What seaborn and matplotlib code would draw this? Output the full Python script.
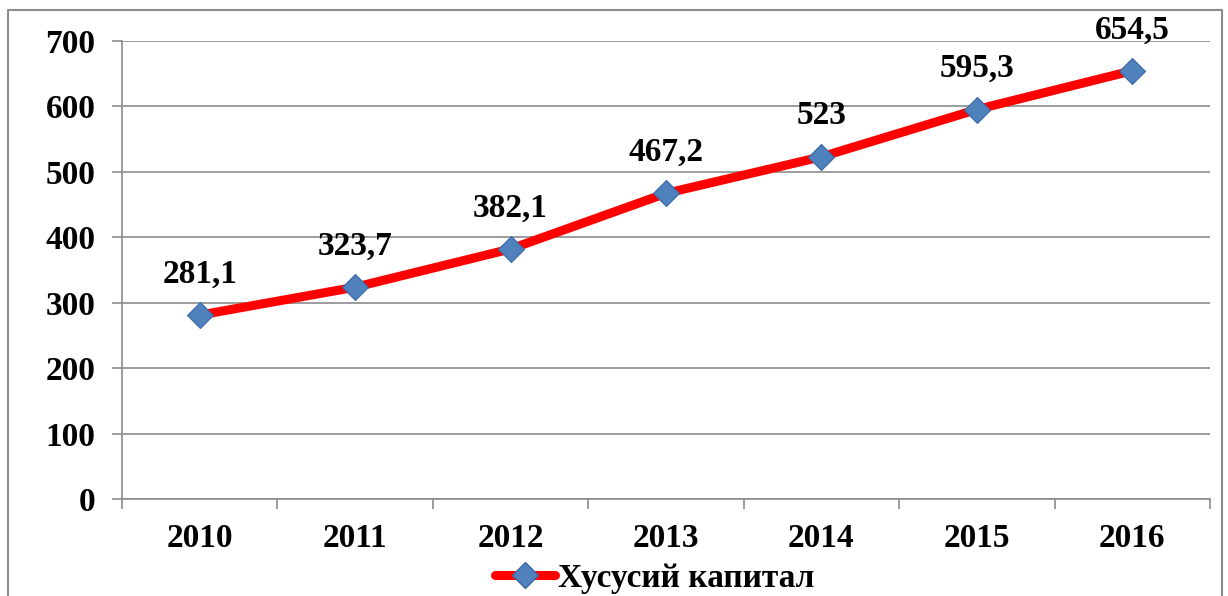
import numpy as np
import pandas as pd
import matplotlib
matplotlib.use('Agg')
import matplotlib.pyplot as plt
import seaborn as sns
from matplotlib.lines import Line2D

# данные
years = ['2010', '2011', '2012', '2013', '2014', '2015', '2016']
values = [281.1, 323.7, 382.1, 467.2, 523, 595.3, 654.5]
value_labels = ['281,1', '323,7', '382,1', '467,2', '523', '595,3', '654,5']
series_name = 'Хусусий капитал'

sns.set_style('white')
plt.rcParams['font.family'] = ['Liberation Serif', 'DejaVu Serif']
plt.rcParams['font.weight'] = 'bold'
plt.rcParams['text.color'] = 'black'
plt.rcParams['xtick.labelcolor'] = 'black'
plt.rcParams['ytick.labelcolor'] = 'black'
FS = 24

df = pd.DataFrame({'x': np.arange(len(years)), 'value': values})

fig = plt.figure(figsize=(12.28, 5.96), dpi=100)
ax = fig.add_axes([122 / 1228, 1 - 499 / 596, 1088 / 1228, 458 / 596])

sns.lineplot(data=df, x='x', y='value', ax=ax, color='#ff0000', linewidth=6.5,
             marker='D', markersize=13, markerfacecolor='#4f81bd',
             markeredgecolor='#3a6aa5', markeredgewidth=0.8, zorder=3)

for xi, v, lab in zip(df['x'], values, value_labels):
    ax.annotate(lab, (xi, v), xytext=(0, 29.5), textcoords='offset points',
                ha='center', va='center', fontsize=FS, fontweight='bold', color='black')

ax.set_xlim(-0.5, len(years) - 0.5)
ax.set_ylim(0, 700)
ax.set_yticks(range(0, 701, 100))
ax.set_xticks(df['x'])
ax.set_xticklabels(years)
ax.set_xticks(np.arange(-0.5, len(years), 1.0), minor=True)
ax.tick_params(axis='x', which='major', bottom=True, length=0, pad=17, labelsize=FS,
               labelcolor='black')
ax.tick_params(axis='x', which='minor', bottom=True, length=7, width=1.2, color='#8c8c8c',
               direction='out')
ax.tick_params(axis='y', which='major', left=True, length=7, width=1.2, color='#8c8c8c',
               direction='out', pad=12, labelsize=FS, labelcolor='black')
for lab in ax.get_xticklabels() + ax.get_yticklabels():
    lab.set_fontweight('bold')

ax.yaxis.grid(True, color='#8c8c8c', linewidth=1.2)
ax.xaxis.grid(False)
ax.set_axisbelow(True)
for side in ['top', 'right']:
    ax.spines[side].set_visible(False)
for side in ['left', 'bottom']:
    ax.spines[side].set_color('#8c8c8c')
    ax.spines[side].set_linewidth(1.2)
ax.set_xlabel('')
ax.set_ylabel('')

handle = Line2D([], [], color='#ff0000', linewidth=6.5, marker='D', markersize=13,
                markerfacecolor='#4f81bd', markeredgecolor='#3a6aa5')
leg = fig.legend([handle], [series_name], loc='center', bbox_to_anchor=(655 / 1228, 1 - 578 / 596),
                 frameon=False, handlelength=1.8, handletextpad=0.1,
                 prop={'weight': 'bold', 'size': FS})
for t in leg.get_texts():
    t.set_color('black')

# рамка диаграммы
border = [(8, 596), (8, 10), (1222, 10), (1222, 596)]
fig.add_artist(Line2D([p[0] / 1228 for p in border], [1 - p[1] / 596 for p in border],
                      color='#8c8c8c', linewidth=1.5, transform=fig.transFigure))

fig.savefig('out.png', dpi=100)
